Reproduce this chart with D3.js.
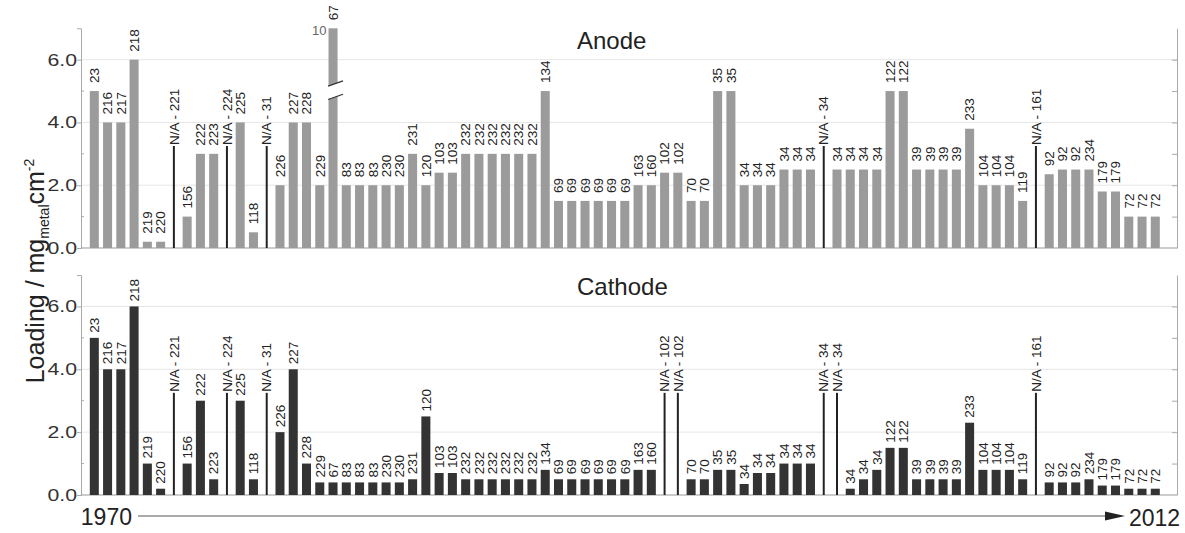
<!DOCTYPE html>
<html><head><meta charset="utf-8">
<script src="https://cdn.jsdelivr.net/npm/d3@7"></script>
<style>body{margin:0;background:#fff} svg{display:block} text{font-family:"Liberation Sans",Arial,sans-serif}</style>
</head><body><svg id="c" width="1185" height="533"></svg>
<script>
const anodeLabels = ["23","216","217","218","219","220","N/A - 221","156","222","223","N/A - 224","225","118","N/A - 31","226","227","228","229","67","83","83","83","230","230","231","120","103","103","232","232","232","232","232","232","134","69","69","69","69","69","69","163","160","102","102","70","70","35","35","34","34","34","34","34","34","N/A - 34","34","34","34","34","122","122","39","39","39","39","233","104","104","104","119","N/A - 161","92","92","92","234","179","179","72","72","72"];
const anodeValues = [5,4,4,6,0.2,0.2,null,1,3,3,null,4,0.5,null,2,4,4,2,10,2,2,2,2,2,3,2,2.4,2.4,3,3,3,3,3,3,5,1.5,1.5,1.5,1.5,1.5,1.5,2,2,2.4,2.4,1.5,1.5,5,5,2,2,2,2.5,2.5,2.5,null,2.5,2.5,2.5,2.5,5,5,2.5,2.5,2.5,2.5,3.8,2,2,2,1.5,null,2.35,2.5,2.5,2.5,1.8,1.8,1,1,1];
const cathodeLabels = ["23","216","217","218","219","220","N/A - 221","156","222","223","N/A - 224","225","118","N/A - 31","226","227","228","229","67","83","83","83","230","230","231","120","103","103","232","232","232","232","232","232","134","69","69","69","69","69","69","163","160","N/A - 102","N/A - 102","70","70","35","35","34","34","34","34","34","34","N/A - 34","N/A - 34","34","34","34","122","122","39","39","39","39","233","104","104","104","119","N/A - 161","92","92","92","234","179","179","72","72","72"];
const cathodeValues = [5,4,4,6,1,0.2,null,1,3,0.5,null,3,0.5,null,2,4,1,0.4,0.4,0.4,0.4,0.4,0.4,0.4,0.5,2.5,0.7,0.7,0.5,0.5,0.5,0.5,0.5,0.5,0.8,0.5,0.5,0.5,0.5,0.5,0.5,0.8,0.8,null,null,0.5,0.5,0.8,0.8,0.35,0.7,0.7,1,1,1,null,null,0.2,0.5,0.8,1.5,1.5,0.5,0.5,0.5,0.5,2.3,0.8,0.8,0.8,0.5,null,0.4,0.4,0.4,0.5,0.3,0.3,0.2,0.2,0.2];
const yTicks = [0,2,4,6];
const yMinor = [1,3,5];
const yRight = [1,2,3,4,5,6];
const yMax = 7;
const naHeight = 3.25;
const breakAt = 5.0;
const startYear = "1970", endYear = "2012";

const svg = d3.select("#c");
const axisL = 81, axisR = 1177;
const x = d3.scaleBand().domain(d3.range(anodeLabels.length)).range([89.8, 1159.8]).paddingInner(0.32).paddingOuter(0);
const bw = x.bandwidth();

function panel(labels, values, top, bottom, fill, title, titleY, gap) {
  const y = d3.scaleLinear().domain([0, yMax]).range([bottom, top]);
  const g = svg.append("g");
  g.selectAll("line.grid").data(yTicks.filter(t => t > 0)).join("line")
    .attr("x1", axisL).attr("x2", axisR).attr("y1", d => y(d)).attr("y2", d => y(d))
    .attr("stroke", "#e6e6e6");
  const axg = g.append("g").attr("transform", `translate(${axisL},0)`)
    .call(d3.axisLeft(y).tickValues(yTicks).tickFormat("").tickSize(4));
  axg.select(".domain").attr("stroke", "#aaa");
  axg.selectAll(".tick line").attr("stroke", "#aaa");
  g.selectAll("line.minor").data(yMinor).join("line")
    .attr("x1", axisL).attr("x2", axisL + 3).attr("y1", d => y(d)).attr("y2", d => y(d)).attr("stroke", "#aaa");
  g.selectAll("text.tl").data(yTicks).join("text")
    .attr("transform", d => `translate(77,${y(d)}) scale(1.25,1)`)
    .attr("text-anchor", "end").attr("dy", "0.35em").attr("font-size", 17).attr("fill", "#333")
    .text(d3.format(".1f"));
  const rg = g.append("g").attr("transform", `translate(${axisR},0)`)
    .call(d3.axisRight(y).tickValues(yRight).tickFormat("").tickSize(-5).tickSizeOuter(0));
  rg.select(".domain").attr("stroke", "#aaa");
  rg.selectAll(".tick line").attr("stroke", "#aaa");
  g.append("line").attr("x1", axisL).attr("x2", axisR).attr("y1", y(0)).attr("y2", y(0)).attr("stroke", "#999");

  const data = labels.map((l, i) => ({ i, l, v: values[i] }));
  const bars = data.filter(d => d.v !== null);
  const nas = data.filter(d => d.v === null);
  g.selectAll("rect.bar").data(bars).join("rect")
    .attr("x", d => x(d.i)).attr("width", bw)
    .attr("y", d => y(Math.min(d.v, yMax))).attr("height", d => y(0) - y(Math.min(d.v, yMax)))
    .attr("fill", fill);
  g.selectAll("line.na").data(nas).join("line")
    .attr("x1", d => x(d.i) + bw / 2).attr("x2", d => x(d.i) + bw / 2)
    .attr("y1", y(0)).attr("y2", y(naHeight)).attr("stroke", "#222").attr("stroke-width", 2);
  const broken = bars.filter(d => d.v > yMax);
  broken.forEach(d => {
    const cx = x(d.i) + bw / 2, yb = y(breakAt), hg = 6.7, s = 0.35;
    g.append("polygon").attr("fill", "#fff")
      .attr("points", [[cx - bw / 2 - 1, yb - hg + (bw / 2 + 1) * s], [cx + bw / 2 + 1, yb - hg - (bw / 2 + 1) * s],
        [cx + bw / 2 + 1, yb + hg - (bw / 2 + 1) * s], [cx - bw / 2 - 1, yb + hg + (bw / 2 + 1) * s]].map(p => p.join(",")).join(" "));
    [-hg, hg].forEach(o => {
      g.append("line").attr("x1", cx - 5).attr("y1", yb + o + 5 * s).attr("x2", cx + 10).attr("y2", yb + o - 10 * s)
        .attr("stroke", "#333").attr("stroke-width", 1.2);
    });
    g.append("text").attr("x", x(d.i) - 2).attr("y", y(yMax) + 7).attr("text-anchor", "end")
      .attr("font-size", 13).attr("fill", "#666").text(d.v);
  });
  g.selectAll("text.bl").data(bars).join("text")
    .attr("transform", d => `translate(${x(d.i) + bw / 2},${y(Math.min(d.v, yMax)) - gap}) rotate(-90)`)
    .attr("dy", "0.35em").attr("font-size", 13.5).attr("fill", "#222").text(d => d.l);
  g.selectAll("text.nl").data(nas).join("text")
    .attr("transform", d => `translate(${x(d.i) + bw / 2},${y(naHeight) - 1}) rotate(-90)`)
    .attr("dy", "0.35em").attr("font-size", 13.5).attr("fill", "#222").text(d => d.l);
  g.append("text").attr("x", 577).attr("y", titleY).attr("font-size", 24).attr("fill", "#222").text(title);
}

panel(anodeLabels, anodeValues, 28.3, 248, "#9b9b9b", "Anode", 49, 8);
panel(cathodeLabels, cathodeValues, 275, 495, "#333", "Cathode", 295, 5);

const yl = svg.append("text").attr("transform", "translate(44,271) rotate(-90)")
  .attr("text-anchor", "middle").attr("font-size", 25).attr("fill", "#222");
yl.append("tspan").text("Loading / mg");
yl.append("tspan").attr("font-size", 14).attr("dy", 5).text("metal");
yl.append("tspan").attr("dy", -5).text("cm");
yl.append("tspan").attr("font-size", 14).attr("dy", -10).text("-2");

svg.append("line").attr("x1", 138).attr("x2", 1108).attr("y1", 516).attr("y2", 516).attr("stroke", "#555").attr("stroke-width", 1.2);
svg.append("polygon").attr("points", "1105,511.5 1125,516 1105,520.5").attr("fill", "#222");
svg.append("text").attr("x", 132).attr("y", 525).attr("text-anchor", "end").attr("font-size", 23).attr("fill", "#222").text(startYear);
svg.append("text").attr("x", 1129).attr("y", 526).attr("font-size", 23).attr("fill", "#222").text(endYear);
</script></body></html>
